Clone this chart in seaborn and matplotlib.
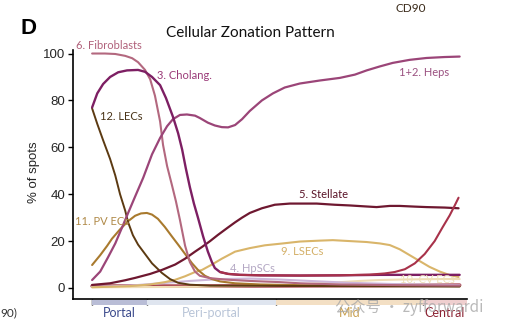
import matplotlib
matplotlib.use("Agg")
import matplotlib.pyplot as plt
from matplotlib.patches import Rectangle
import seaborn as sns
import pandas as pd

# ---------------- data (zonation position 0=portal .. 100=central, % of spots)
heps_x = [0, 2.2, 4.3, 6.3, 8.2, 9.8, 11.7, 13.9, 16.3, 18.5, 20.4, 22.0, 23.9, 25.8, 28.0, 29.3, 31.5, 33.4, 35.3, 37.0,
          38.9, 40.8, 42.9, 46.2, 49.2, 52.4, 56.5, 62.0, 67.4, 71.5, 74.7, 78.3, 81.8, 86.4, 91.0, 95.9, 100]
heps_y = [3.4, 7, 13, 19, 26, 32, 39, 47, 57, 64, 69, 72, 73.8, 74, 73.5, 72.5, 70.5, 69.3, 68.6, 68.5,
          69.5, 72, 75.5, 80, 83, 85.5, 87.2, 88.5, 89.6, 91, 92.8, 94.5, 96, 97.3, 98.1, 98.5, 98.7]

fibro_x = [0, 3.5, 6.3, 9.0, 10.9, 12.5, 14.4, 15.8, 17.1, 18.5, 19.3, 20.4, 21.7, 22.8, 23.9, 25.3, 26.6, 28.0, 29.3,
           32.1, 36.1, 42.9, 51.1, 56.5, 67.4, 83.7, 100]
fibro_y = [100, 100, 99.8, 99, 98, 96.3, 93, 89, 82, 71, 61, 52, 44, 37, 29, 18, 11, 7, 5.2,
           4.2, 3.6, 3.0, 2.5, 2.0, 1.5, 1.2, 1.0]

chol_x = [0, 1.4, 3.0, 4.9, 7.1, 9.5, 12.5, 14.4, 16.3, 18.5, 20.1, 22.0, 23.4, 24.5, 25.5, 26.6, 27.7, 28.8, 30.2, 31.5,
          32.6, 33.4, 34.8, 37.0, 40.2, 45.7, 56.5, 67.4, 78.3, 89.1, 100]
chol_y = [77, 83, 87, 90, 92, 92.8, 93, 92.2, 90, 86.5, 81, 73, 66, 59, 51, 43, 36, 30, 22, 15.5,
          11, 8.5, 6.8, 6.0, 5.6, 5.4, 5.3, 5.4, 5.6, 5.6, 5.6]

pvec_x = [0, 2.2, 4.1, 5.4, 7.6, 9.8, 11.7, 13.3, 14.9, 16.3, 17.9, 19.8, 21.7, 23.4, 25.3, 27.2, 28.8, 30.7, 32.6,
          34.8, 38.9, 45.7, 56.5, 100]
pvec_y = [9.8, 14, 18, 21, 25, 28.5, 30.8, 31.8, 32, 31.3, 29.5, 26, 22, 18.5, 14.5, 10.5, 7.7, 5.2, 3.8,
          2.8, 2.0, 1.5, 1.2, 0.8]

lec_x = [0, 1.4, 3.0, 4.9, 6.3, 7.6, 9.0, 9.8, 11.1, 12.5, 14.4, 16.3, 19.0, 21.2, 23.4, 26.6, 32.1, 100]
lec_y = [76.6, 70, 63, 55, 48, 40, 33, 28, 22.5, 18.5, 14.5, 10.5, 6.4, 3.8, 2.2, 1.4, 1.0, 0.6]

stel_x = [0, 4.9, 9.0, 11.7, 15.8, 19.0, 22.6, 25.3, 28.0, 29.9, 32.1, 34.2, 36.7, 38.9, 40.8, 42.9, 46.2, 49.7, 53.8,
          61.1, 66.0, 70.1, 74.2, 77.4, 81.0, 83.7, 87.8, 91.0, 95.9, 99.7]
stel_y = [1.3, 2, 3.3, 4.3, 6, 7.7, 10, 12.5, 15.5, 17.5, 20, 22.6, 25.5, 28, 30, 32, 34, 35.5, 36,
          36, 35.5, 35.2, 34.8, 34.5, 35, 35, 34.7, 34.5, 34.3, 34]

lsec_x = [0, 10.3, 15.8, 19.8, 22.6, 25.3, 28.0, 29.9, 32.6, 35.3, 38.9, 42.9, 47.0, 51.9, 56.5, 62.0, 65.5, 70.1,
          74.7, 78.3, 81.0, 83.7, 86.4, 89.1, 91.8, 94.6, 97.3, 99.7]
lsec_y = [0.3, 0.8, 1.5, 2.5, 3.5, 5, 6.8, 7.7, 10, 12.5, 15.5, 17, 18.2, 19, 19.8, 20.2, 20.4, 20,
          19.6, 19, 18.3, 16.5, 14, 11.5, 9, 7, 5.5, 4.7]

hpsc_x = [0, 10.3, 18.5, 26.6, 34.8, 42.9, 51.1, 59.2, 70.1, 83.7, 100]
hpsc_y = [0.5, 1, 2, 3, 3.8, 4, 3.6, 3, 2.2, 1.6, 1.2]

cvec_x = [0, 29.3, 45.7, 56.5, 64.7, 72.8, 78.3, 83.7, 89.1, 94.6, 100]
cvec_y = [0.3, 0.5, 0.9, 1.5, 2.2, 3, 3.4, 3.6, 3.7, 3.8, 3.8]

cent_x = [34.8, 37.0, 40.2, 45.7, 56.5, 67.4, 75.5, 79.6, 82.3, 85.1, 87.8, 90.5, 93.2, 95.4, 97.3, 98.6, 99.7]
cent_y = [6.8, 6.0, 5.6, 5.4, 5.3, 5.4, 5.7, 6.2, 6.8, 8, 10.5, 14.5, 20, 26, 31, 35, 38.5]

base_x = [0, 25, 50, 75, 100]
base_y = [0.8, 0.8, 0.9, 1.0, 1.2]

zones = ["Portal", "Peri-portal", "Mid", "Central"]
zone_edges = [0, 15, 50, 90, 102]
yticks = [0, 20, 40, 60, 80, 100]

# ---------------- style
sns.set_theme(style="ticks")
plt.rcParams['font.family'] = ['Lato', 'DejaVu Sans']

fig = plt.figure(figsize=(5.16, 3.28), dpi=100)
ax = fig.add_axes([73/516, 1-299/328, (467-73)/516, (299-50)/328])

series = [
    (base_x, base_y, "#a8404c", 2.6),
    (cvec_x, cvec_y, "#efdcb5", 1.5),
    (hpsc_x, hpsc_y, "#cdb6d9", 1.5),
    (lsec_x, lsec_y, "#d9b56a", 1.5),
    (pvec_x, pvec_y, "#a97a2e", 1.5),
    (lec_x, lec_y, "#5c3a12", 1.4),
    (stel_x, stel_y, "#6e1830", 1.6),
    (fibro_x, fibro_y, "#b3687f", 1.5),
    (heps_x, heps_y, "#9b4578", 1.6),
    (chol_x, chol_y, "#7d1f63", 1.7),
    (cent_x, cent_y, "#a8324a", 1.5),
]
for xs, ys, col, lw in series:
    df = pd.DataFrame({"pos": xs, "pct": ys})
    sns.lineplot(data=df, x="pos", y="pct", ax=ax, color=col, linewidth=lw, sort=False)

ax.set_xlim(-5.2, 102)
ax.set_ylim(-4.7, 101.5)
ax.set_yticks(yticks)
ax.set_xticks(zone_edges[:-1])
ax.set_xticklabels([])
ax.tick_params(axis="y", labelsize=9.5, length=3.5, width=1, color="black", pad=2)
ax.tick_params(axis="x", length=4.5, width=1, color="black")
for lab in ax.get_yticklabels():
    lab.set_fontfamily("Liberation Sans")
sns.despine(ax=ax)
for s in ["left", "bottom"]:
    ax.spines[s].set_color("black")
    ax.spines[s].set_linewidth(1.2)
ax.set_xlabel("")
ax.set_ylabel("% of spots", fontsize=9.5, family="Liberation Sans")
ax.yaxis.set_label_coords(-0.084, 0.51)

# zone bars below x axis
zone_cols = ["#b9bdd6", "#dfe5ef", "#f3dfc4", "#efcfcf"]
zone_txt = ["#3b4a8c", "#b9c5d8", "#c9a050", "#8c2434"]
xt = ax.get_xaxis_transform()
for i, z in enumerate(zones):
    x0, x1 = zone_edges[i], zone_edges[i+1]
    ax.add_patch(Rectangle((x0, -0.026), x1 - x0, 0.021, transform=xt,
                           facecolor=zone_cols[i], edgecolor="none", clip_on=False))
    ax.text((x0 + x1) / 2, -0.056, z, transform=xt, ha="center", va="center",
            fontsize=9, color=zone_txt[i])

# curve labels
labels = [
    ("6. Fibroblasts", -4.3, 103.4, "#b0607a"),
    ("3. Cholang.", 17.7, 90.6, "#9a3a78"),
    ("12. LECs", 2.2, 73.2, "#4a3418"),
    ("1+2. Heps", 83.4, 91.9, "#9a5080"),
    ("5. Stellate", 56.3, 40.0, "#5a1428"),
    ("11. PV ECs", -4.6, 28.5, "#b08a48"),
    ("9. LSECs", 51.4, 15.7, "#d4b068"),
    ("4. HpSCs", 37.5, 8.5, "#b4a8c4"),
    ("10. CV ECs", 83.7, 3.8, "#eee0b8"),
]
for t, x, y, c in labels:
    ax.text(x, y, t, fontsize=8, color=c, ha="left", va="center")

# figure texts
fig.text(250/516, 1-33/328, "Cellular Zonation Pattern", fontsize=11, ha="center", va="center", color="#111111")
fig.text(20/516, 1-29/328, "D", fontsize=16, fontweight="bold", family="Liberation Sans",
         ha="left", va="center", color="black")
fig.text(395/516, 1-9/328, "CD90", fontsize=8.5, ha="left", va="center", color="#3a2a1a")
fig.text(0/516, 1-313/328, "90)", fontsize=8.5, ha="left", va="center", color="#333333")
fig.text(335/516, 1-307/328, "公众号 · zyfforwardi", fontsize=11, ha="left", va="center",
         color="#a8a8a8", alpha=0.8, family=["Noto Sans CJK SC", "DejaVu Sans"])

fig.savefig("out.png", dpi=100)
